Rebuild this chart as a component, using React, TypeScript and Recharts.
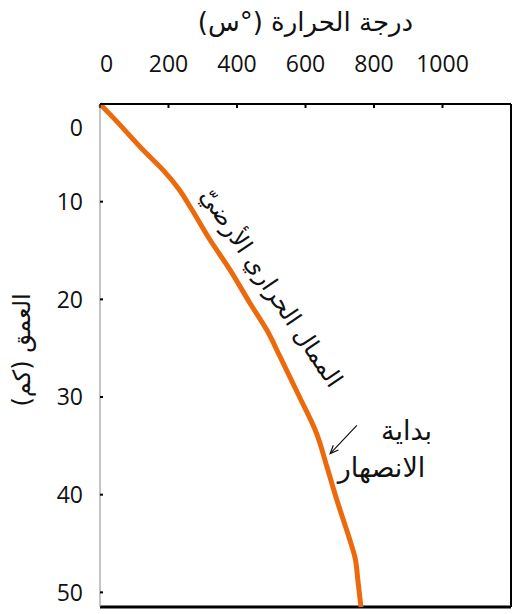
import { LineChart, Line, XAxis, YAxis, ReferenceLine, ReferenceDot } from 'recharts';

// geothermal gradient: depth (km) vs temperature (°C)
const depthKm = [0, 1.6, 4.9, 6.8, 8.8, 10.8, 13.9, 17, 20.4, 23.2, 25.9, 30.1, 33.7, 37.2, 40.6, 44.7, 46.5, 48.8, 51.5];
const tempC = [0, 44, 131, 185, 232, 268, 321, 380, 438, 488, 526, 584, 632, 663, 692, 730, 745, 753, 762];
const tempTicks = [0, 200, 400, 600, 800, 1000];
const depthTicks = [0, 10, 20, 30, 40, 50];

const data = depthKm.map((d, i) => ({ depth: d, temp: tempC[i] }));

const numFont = '"Open Sans", sans-serif';
const arFont = '"DejaVu Sans", sans-serif';
const orange = '#ec6a0c';

const XTick = (props: any) => {
  const { x, y, payload } = props;
  return (
    <text x={x} y={y} textAnchor={payload.value === 0 ? 'start' : 'middle'} fontFamily={numFont} fontSize={23} fill="#111">
      {payload.value}
    </text>
  );
};

const YTick = (props: any) => {
  const { x, y, payload } = props;
  const shift = payload.value === 0 ? 24 : 0;
  return (
    <text x={x} y={y + shift} dy="0.355em" textAnchor="end" fontFamily={numFont} fontSize={23} fill="#111">
      {payload.value}
    </text>
  );
};

const TitleLabel = (props: any) => {
  const { viewBox } = props;
  const cx = viewBox.x + viewBox.width / 2;
  return (
    <text x={cx} y={31} direction="rtl" textAnchor="middle" fontFamily={arFont} fontSize={26} fill="#111">
      درجة الحرارة (°س)
    </text>
  );
};

const DepthLabel = () => (
  <text x={22} y={350} transform="rotate(-90, 22, 350)" direction="rtl" textAnchor="middle" dominantBaseline="central" fontFamily={arFont} fontSize={24} fill="#111">
    العمق (كم)
  </text>
);

const GradientLabel = (props: any) => {
  const { viewBox } = props;
  const cx = viewBox.x + viewBox.width / 2;
  const cy = viewBox.y + viewBox.height / 2;
  return (
    <text x={cx} y={cy} transform={`rotate(56, ${cx}, ${cy})`} direction="rtl" textAnchor="middle" dominantBaseline="central" fontFamily={arFont} fontSize={24} fill="#111">
      الممال الحراري الأرضيّ
    </text>
  );
};

const MeltLabel = (props: any) => {
  const { viewBox } = props;
  const cx = viewBox.x + viewBox.width / 2;
  const cy = viewBox.y + viewBox.height / 2;
  return (
    <g fontFamily={arFont} fontSize={27} fill="#111" textAnchor="middle">
      <text x={cx + 25} y={cy} direction="rtl" dominantBaseline="central">بداية</text>
      <text x={cx} y={cy + 37} direction="rtl" dominantBaseline="central">الانصهار</text>
    </g>
  );
};

const Arrow = (props: any) => {
  const { x1, y1, x2, y2 } = props;
  const a = Math.atan2(y2 - y1, x2 - x1);
  const L = 9;
  const p1 = [x2 - L * Math.cos(a - 0.4), y2 - L * Math.sin(a - 0.4)];
  const p2 = [x2 - L * Math.cos(a + 0.4), y2 - L * Math.sin(a + 0.4)];
  return (
    <g stroke="#111" strokeWidth={1.2} fill="none">
      <line x1={x1} y1={y1} x2={x2} y2={y2} />
      <polyline points={`${p1[0]},${p1[1]} ${x2},${y2} ${p2[0]},${p2[1]}`} />
    </g>
  );
};

export default function App() {
  return (
    <div style={{ position: 'absolute', left: 0, top: 0, background: '#fff' }}>
      <LineChart
        width={513}
        height={614}
        data={data}
        layout="vertical"
        margin={{ top: 0, right: 2, bottom: 7, left: 0 }}
      >
        <XAxis
          type="number"
          dataKey="temp"
          orientation="top"
          domain={[0, 1200]}
          ticks={tempTicks}
          height={104}
          tickSize={-4}
          tickMargin={36}
          axisLine={{ stroke: '#000', strokeWidth: 2 }}
          tickLine={{ stroke: '#000', strokeWidth: 2 }}
          tick={<XTick />}
          label={<TitleLabel />}
        />
        <YAxis
          type="number"
          dataKey="depth"
          domain={[0, 51.5]}
          ticks={depthTicks}
          width={100}
          tickSize={-3}
          tickMargin={20}
          axisLine={{ stroke: '#888', strokeWidth: 1 }}
          tickLine={{ stroke: '#000', strokeWidth: 2 }}
          tick={<YTick />}
          label={<DepthLabel />}
        />
        <ReferenceLine x={1200} stroke="#000" strokeWidth={2} />
        <ReferenceLine y={51.5} stroke="#000" strokeWidth={3} />
        <ReferenceLine
          segment={[{ x: 750, y: 32.9 }, { x: 672, y: 35.8 }]}
          shape={<Arrow />}
        />
        <ReferenceDot x={500} y={18.8} r={0} stroke="none" fill="none" label={<GradientLabel />} />
        <ReferenceDot x={822} y={33.4} r={0} stroke="none" fill="none" label={<MeltLabel />} />
        <Line
          type="monotone"
          dataKey="temp"
          stroke={orange}
          strokeWidth={5}
          dot={false}
          isAnimationActive={false}
        />
      </LineChart>
    </div>
  );
}
